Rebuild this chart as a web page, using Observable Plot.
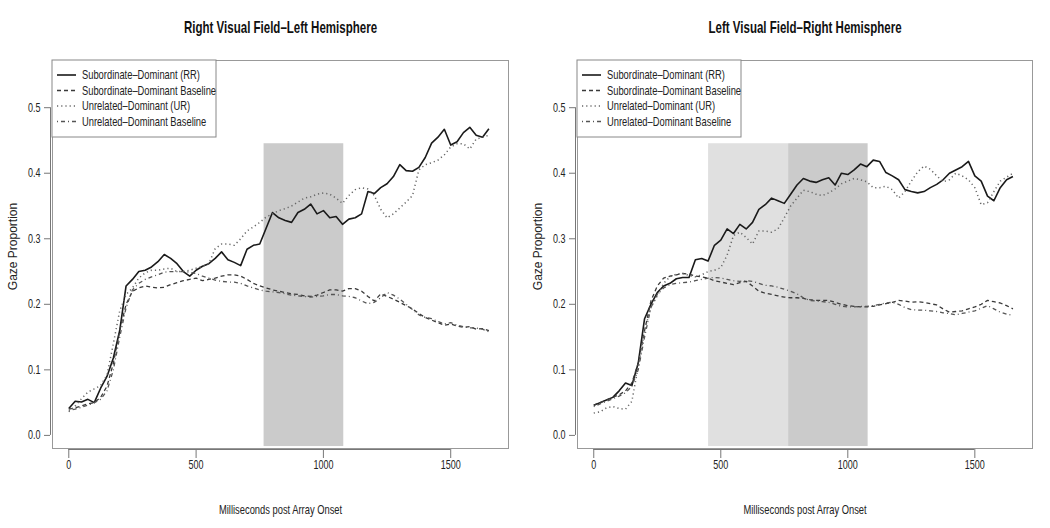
<!DOCTYPE html>
<html><head><meta charset="utf-8">
<script src="https://cdn.jsdelivr.net/npm/d3@7"></script>
<script src="https://cdn.jsdelivr.net/npm/@observablehq/plot@0.6"></script>
<style>
body{margin:0;background:#fff;}
#wrap{position:relative;width:1050px;height:528px;display:flex;}
.panel{width:525px;height:528px;}
</style></head><body><div id="wrap"><div class="panel" id="p1"></div><div class="panel" id="p2"></div></div>
<script>
// ---- data ----
const times = [0,25,50,75,100,125,150,175,200,225,250,275,300,325,350,375,400,425,450,475,500,525,550,575,600,625,650,675,700,725,750,775,800,825,850,875,900,925,950,975,1000,1025,1050,1075,1100,1125,1150,1175,1200,1225,1250,1275,1300,1325,1350,1375,1400,1425,1450,1475,1500,1525,1550,1575,1600,1625,1650];

const seriesNames = ["Subordinate–Dominant (RR)","Subordinate–Dominant Baseline","Unrelated–Dominant (UR)","Unrelated–Dominant Baseline"];

const titles = ["Right Visual Field–Left Hemisphere","Left Visual Field–Right Hemisphere"];
const xLabel = "Milliseconds post Array Onset";
const yLabel = "Gaze Proportion";
const xTicks = [0,500,1000,1500];
const yTicks = [0,0.1,0.2,0.3,0.4,0.5];

// Right Visual Field – Left Hemisphere
const leftRR = [0.041,0.052,0.051,0.055,0.050,0.072,0.090,0.118,0.160,0.228,0.238,0.250,0.252,0.257,0.265,0.276,0.270,0.262,0.250,0.243,0.252,0.258,0.262,0.270,0.280,0.268,0.264,0.259,0.284,0.290,0.292,0.316,0.340,0.332,0.328,0.325,0.340,0.345,0.353,0.338,0.343,0.332,0.334,0.322,0.330,0.332,0.338,0.372,0.369,0.378,0.384,0.395,0.413,0.404,0.403,0.409,0.424,0.446,0.455,0.467,0.443,0.448,0.462,0.470,0.458,0.455,0.468];
const leftSDB = [0.040,0.042,0.045,0.048,0.050,0.058,0.075,0.110,0.160,0.200,0.220,0.225,0.228,0.226,0.225,0.226,0.230,0.233,0.236,0.238,0.240,0.236,0.238,0.240,0.243,0.245,0.245,0.243,0.238,0.232,0.228,0.225,0.222,0.220,0.218,0.216,0.215,0.213,0.212,0.214,0.218,0.222,0.222,0.220,0.224,0.224,0.220,0.212,0.205,0.216,0.212,0.208,0.203,0.198,0.193,0.186,0.180,0.176,0.172,0.168,0.170,0.167,0.165,0.166,0.162,0.163,0.160];
const leftUR = [0.036,0.045,0.056,0.066,0.071,0.076,0.092,0.140,0.190,0.215,0.225,0.240,0.248,0.252,0.252,0.254,0.255,0.250,0.250,0.252,0.255,0.258,0.262,0.285,0.292,0.292,0.290,0.300,0.312,0.318,0.325,0.333,0.338,0.343,0.346,0.350,0.356,0.362,0.364,0.368,0.370,0.368,0.362,0.354,0.366,0.375,0.378,0.376,0.366,0.345,0.332,0.338,0.347,0.356,0.366,0.405,0.413,0.416,0.420,0.428,0.440,0.445,0.445,0.437,0.452,0.455,0.458];
const leftUDB = [0.038,0.040,0.043,0.046,0.050,0.055,0.068,0.100,0.150,0.195,0.222,0.232,0.238,0.242,0.245,0.249,0.250,0.250,0.250,0.249,0.247,0.243,0.240,0.237,0.235,0.234,0.234,0.232,0.228,0.225,0.222,0.220,0.219,0.218,0.216,0.214,0.213,0.212,0.211,0.212,0.213,0.215,0.215,0.213,0.212,0.210,0.205,0.201,0.203,0.210,0.218,0.214,0.208,0.200,0.192,0.184,0.180,0.178,0.174,0.170,0.172,0.168,0.166,0.164,0.164,0.162,0.158];

// Left Visual Field – Right Hemisphere
const rightRR = [0.046,0.050,0.054,0.058,0.068,0.080,0.076,0.110,0.178,0.200,0.218,0.228,0.232,0.239,0.241,0.241,0.268,0.270,0.266,0.290,0.298,0.315,0.308,0.322,0.315,0.325,0.345,0.352,0.362,0.358,0.354,0.368,0.382,0.392,0.388,0.386,0.390,0.393,0.382,0.400,0.398,0.405,0.414,0.410,0.420,0.418,0.401,0.396,0.390,0.375,0.372,0.370,0.372,0.378,0.383,0.390,0.400,0.405,0.410,0.418,0.396,0.388,0.365,0.358,0.378,0.390,0.395];
const rightSDB = [0.046,0.050,0.054,0.058,0.062,0.068,0.080,0.110,0.160,0.205,0.228,0.240,0.243,0.245,0.247,0.246,0.243,0.242,0.240,0.236,0.234,0.232,0.230,0.233,0.235,0.228,0.220,0.217,0.215,0.213,0.211,0.210,0.210,0.209,0.207,0.206,0.206,0.206,0.203,0.200,0.198,0.197,0.196,0.196,0.197,0.199,0.201,0.203,0.206,0.205,0.203,0.204,0.203,0.201,0.199,0.193,0.188,0.189,0.190,0.193,0.196,0.200,0.206,0.204,0.202,0.198,0.193];
const rightUR = [0.034,0.036,0.042,0.044,0.041,0.040,0.052,0.105,0.160,0.195,0.213,0.232,0.242,0.246,0.247,0.244,0.242,0.245,0.250,0.252,0.256,0.275,0.305,0.310,0.302,0.292,0.312,0.312,0.310,0.315,0.332,0.350,0.362,0.374,0.372,0.368,0.366,0.370,0.376,0.384,0.388,0.392,0.390,0.387,0.378,0.378,0.380,0.375,0.362,0.372,0.388,0.402,0.411,0.406,0.396,0.387,0.390,0.400,0.396,0.390,0.378,0.352,0.355,0.372,0.388,0.394,0.400];
const rightUDB = [0.044,0.048,0.052,0.056,0.060,0.065,0.075,0.100,0.150,0.195,0.215,0.225,0.230,0.232,0.233,0.234,0.236,0.238,0.240,0.241,0.240,0.238,0.236,0.235,0.236,0.235,0.232,0.229,0.228,0.226,0.223,0.220,0.216,0.210,0.206,0.205,0.204,0.203,0.200,0.197,0.196,0.196,0.197,0.197,0.198,0.200,0.202,0.203,0.200,0.195,0.192,0.191,0.191,0.190,0.189,0.187,0.186,0.184,0.186,0.188,0.190,0.194,0.198,0.193,0.188,0.185,0.183];

// analysis windows (ms) and their vertical extent (gaze proportion)
const leftWinStart = [767];
const leftWinEnd = [1080];
const rightWinStart = [452, 767];
const rightWinEnd = [767, 1080];
const winBottom = -0.017;
const winTop = 0.445;

// ---- drawing ----
const FONT = '"Liberation Sans",Arial,Helvetica,sans-serif';
const SQUEEZE = 0.72; // horizontal compression of the reference's glyphs
const styles = [
  {stroke:"#1a1a1a", width:1.6, dash:null},
  {stroke:"#3a3a3a", width:1.3, dash:"4,3"},
  {stroke:"#666", width:1.5, dash:"1.2,3"},
  {stroke:"#555", width:1.3, dash:"1,3,4,3"}
];
const shadeColors = ["#e0e0e0","#cbcbcb"];

function panel(el, title, series, winStart, winEnd, marginRight) {
  const wins = winStart.map((s,i)=>({s, e:winEnd[i], k: winStart.length===1 ? 1 : i}));
  const marks = [
    Plot.rect(wins, {x1:"s", x2:"e", y1:()=>winBottom, y2:()=>winTop, fill:d=>shadeColors[d.k]}),
  ];
  series.forEach((vals, i) => {
    const rows = vals.map((v,j)=>({t:times[j], v}));
    const st = styles[i];
    marks.push(Plot.line(rows, {x:"t", y:"v", stroke:st.stroke, strokeWidth:st.width, strokeDasharray:st.dash, strokeLinecap:"butt"}));
  });
  marks.push(Plot.frame({stroke:"#999"}));
  marks.push(Plot.ruleY([-0.02], {x1:xTicks[0], x2:xTicks[xTicks.length-1], dy:1, stroke:"#777"}));
  marks.push(Plot.ruleX([-64], {y1:yTicks[0], y2:yTicks[yTicks.length-1], dx:-2, stroke:"#777"}));
  marks.push(Plot.axisX({ticks:xTicks, tickSize:9, tickPadding:2, dy:1, fontSize:12.5, stroke:"#777", color:"#222", label:null, tickFormat:d=>String(d)}));
  marks.push(Plot.axisY({ticks:yTicks, tickSize:6, tickPadding:4, dx:-2, fontSize:12.5, stroke:"#777", color:"#222", label:null, tickFormat:d3.format(".1f")}));
  marks.push(Plot.text([title], {frameAnchor:"top", lineAnchor:"middle", dy:-33, fontSize:16, fontWeight:"bold", fill:"#111"}));
  marks.push(Plot.text([xLabel], {frameAnchor:"bottom", lineAnchor:"middle", dy:61, fontSize:13, fill:"#222"}));
  marks.push(Plot.text([yLabel], {frameAnchor:"left", textAnchor:"middle", lineAnchor:"middle", dx:-39, dy:-8, rotate:-90, fontSize:12, fill:"#222"}));

  const p = Plot.plot({
    width:525, height:528,
    marginLeft:52, marginRight, marginTop:60, marginBottom:80,
    style:{fontFamily:FONT, background:"#fff", overflow:"visible"},
    x:{domain:[-64,1727]},
    y:{domain:[-0.02,0.572]},
    marks
  });
  // legend box
  const svg = d3.select(p);
  const g = svg.append("g").attr("font-family", FONT).attr("font-size", 13).attr("text-anchor", "start");
  const lx = 52, ly = 60, lw = 164, lh = 77;
  g.append("rect").attr("x", lx).attr("y", ly).attr("width", lw).attr("height", lh).attr("fill", "#fff").attr("stroke", "#888");
  seriesNames.forEach((name, i) => {
    const y = 75 + i*15.5;
    const st = styles[i];
    g.append("line").attr("x1", lx+5).attr("x2", lx+24).attr("y1", y).attr("y2", y)
      .attr("stroke", st.stroke).attr("stroke-width", st.width).attr("stroke-dasharray", st.dash);
    g.append("text").attr("x", lx+30).attr("y", y+4.5).attr("fill", "#222").text(name);
  });
  el.appendChild(p);
  // squeeze glyphs horizontally around each text's anchor point (the rotated y label is left as is)
  p.querySelectorAll("text").forEach(t => {
    if (t.textContent === yLabel) return;
    const prev = t.getAttribute("transform") || "";
    if (prev.includes("rotate")) return;
    const b = t.getBBox();
    const anchor = getComputedStyle(t).textAnchor;
    const ax = anchor === "end" ? b.x + b.width : anchor === "middle" ? b.x + b.width/2 : b.x;
    t.setAttribute("transform", `${prev} translate(${ax},0) scale(${SQUEEZE},1) translate(${-ax},0)`);
  });
}

panel(document.getElementById("p1"), titles[0], [leftRR, leftSDB, leftUR, leftUDB], leftWinStart, leftWinEnd, 17);
panel(document.getElementById("p2"), titles[1], [rightRR, rightSDB, rightUR, rightUDB], rightWinStart, rightWinEnd, 18);
</script></body></html>
